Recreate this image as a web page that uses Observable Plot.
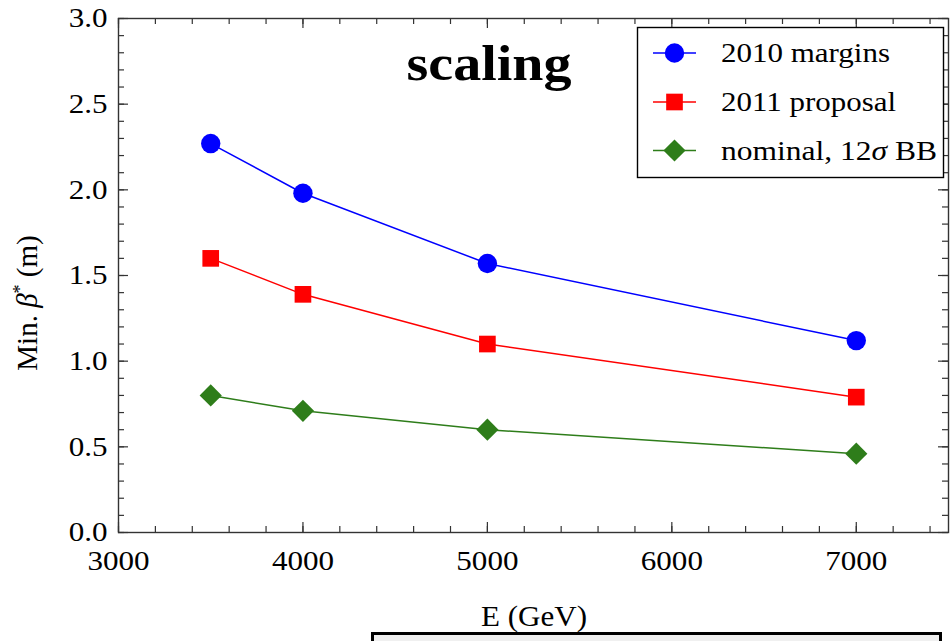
<!DOCTYPE html>
<html><head><meta charset="utf-8">
<script src="https://cdn.jsdelivr.net/npm/d3@7"></script>
<script src="https://cdn.jsdelivr.net/npm/@observablehq/plot@0.6"></script>
<style>
body{margin:0;background:#fff}
#wrap{position:relative;width:952px;height:641px;overflow:hidden;background:#fff}
#overlay{position:absolute;left:0;top:0;pointer-events:none}
#wrap svg text{font-family:'Liberation Serif','Times New Roman',serif}
</style>
</head><body><div id="wrap"></div>
<script>
// ---- data ----
const energies = [3500, 4000, 5000, 7000];
const margins2010 = [2.27, 1.98, 1.57, 1.12];
const proposal2011 = [1.60, 1.39, 1.10, 0.79];
const nominal12 = [0.80, 0.71, 0.60, 0.46];
const seriesNames = ["2010 margins", "2011 proposal", "nominal, 12σ BB"];
const seriesValues = [margins2010, proposal2011, nominal12];
const seriesColors = ["#0000ff", "#ff0000", "#2e7d1a"];
const seriesSymbols = ["circle", "square", "diamond2"];
const xTicks = [3000, 4000, 5000, 6000, 7000];
const yTicks = [0.0, 0.5, 1.0, 1.5, 2.0, 2.5, 3.0];
const titleText = "scaling";
const xLabel = "E (GeV)";

// ---- layout ----
const W = 952, H = 641;
const mL = 118, mR = 4, mT = 18, mB = 109;
const pW = W - mL - mR, pH = H - mT - mB;
const serif = "'Liberation Serif', 'Times New Roman', serif";
const axisColor = "#333";
const markerR = [9.7, 9.4, 10];
const stretch = 1.13; // reference text is slightly wider than it is tall

const rows = [];
seriesNames.forEach((s, i) => energies.forEach((e, j) => rows.push({series: s, E: e, beta: seriesValues[i][j]})));

const xMinor = d3.range(3000, 7500.1, 200);
const yMinor = d3.range(0, 30.1, 1).map(d => d / 10);

const marks = [
  // ticks pointing inward on all four sides
  Plot.tickX(xMinor, {x: d => d, insetTop: pH - 6, stroke: axisColor, strokeWidth: 1.2}),
  Plot.tickX(xTicks, {x: d => d, insetTop: pH - 10, stroke: axisColor, strokeWidth: 1.2}),
  Plot.tickX(xMinor, {x: d => d, insetBottom: pH - 6, stroke: axisColor, strokeWidth: 1.2}),
  Plot.tickX(xTicks, {x: d => d, insetBottom: pH - 10, stroke: axisColor, strokeWidth: 1.2}),
  Plot.tickY(yMinor, {y: d => d, insetRight: pW - 6, stroke: axisColor, strokeWidth: 1.2}),
  Plot.tickY(yTicks, {y: d => d, insetRight: pW - 10, stroke: axisColor, strokeWidth: 1.2}),
  Plot.tickY(yMinor, {y: d => d, insetLeft: pW - 6, stroke: axisColor, strokeWidth: 1.2}),
  Plot.tickY(yTicks, {y: d => d, insetLeft: pW - 10, stroke: axisColor, strokeWidth: 1.2}),
  Plot.axisX(xTicks, {anchor: "bottom", tickSize: 0, tickPadding: 18, label: null, fontSize: 27.5, fontFamily: serif, fill: "black", tickFormat: d => String(d)}),
  Plot.axisY(yTicks, {anchor: "left", tickSize: 0, tickPadding: 11, label: null, fontSize: 27.5, fontFamily: serif, fill: "black", tickFormat: d3.format(".1f")}),
  Plot.frame({stroke: axisColor, strokeWidth: 1.4})
];
seriesNames.forEach((s, i) => {
  const sub = rows.filter(r => r.series === s);
  marks.push(Plot.line(sub, {x: "E", y: "beta", stroke: seriesColors[i], strokeWidth: 1.5}));
  marks.push(Plot.dot(sub, {x: "E", y: "beta", fill: seriesColors[i], symbol: seriesSymbols[i], r: markerR[i], stroke: "none"}));
});

const chart = Plot.plot({
  width: W, height: H,
  marginLeft: mL, marginRight: mR, marginTop: mT, marginBottom: mB,
  x: {domain: [3000, 7500], axis: null},
  y: {domain: [0, 3], axis: null},
  style: {fontFamily: serif, fontSize: "27px", background: "white", color: "black", overflow: "visible"},
  marks
});
const wrap = document.getElementById("wrap");
wrap.appendChild(chart);

// serif, slightly widened tick labels like the reference
chart.querySelectorAll('g[aria-label="x-axis tick label"] text, g[aria-label="y-axis tick label"] text').forEach(t => {
  t.style.fontFamily = "'Liberation Serif', serif";
  t.style.fontVariantNumeric = "normal";
  const len = t.getComputedTextLength();
  if (len > 0) { t.setAttribute("textLength", len * stretch); t.setAttribute("lengthAdjust", "spacingAndGlyphs"); }
});

// ---- overlay: title, labels, legend ----
const ov = d3.select(wrap).append("svg").attr("id", "overlay")
  .attr("width", W).attr("height", H).attr("font-family", serif);

ov.append("text").attr("x", 489).attr("y", 80).attr("text-anchor", "middle")
  .attr("font-size", 51).attr("font-weight", "bold")
  .attr("textLength", 165).attr("lengthAdjust", "spacingAndGlyphs").text(titleText);

ov.append("text").attr("x", 534).attr("y", 626).attr("text-anchor", "middle")
  .attr("font-size", 29).attr("textLength", 106).attr("lengthAdjust", "spacingAndGlyphs").text(xLabel);

const yl = ov.append("text").attr("transform", "translate(37,303) rotate(-90)")
  .attr("text-anchor", "middle").attr("font-size", 29);
yl.append("tspan").text("Min. ");
yl.append("tspan").attr("font-style", "italic").text("β");
yl.append("tspan").attr("font-size", 18).attr("dy", -11).text("*");
yl.append("tspan").attr("dy", 11).text(" (m)");

// bottom partial box
ov.append("rect").attr("x", 372.5).attr("y", 633.5).attr("width", 568).attr("height", 30)
  .attr("fill", "#f0f0f0").attr("stroke", "black").attr("stroke-width", 3);

// legend
ov.append("rect").attr("x", 637.5).attr("y", 27.5).attr("width", 306).attr("height", 150)
  .attr("fill", "white").attr("stroke", "black").attr("stroke-width", 1.4);
const symMap = {circle: d3.symbolCircle, square: d3.symbolSquare, diamond2: d3.symbolDiamond2 || d3.symbolDiamond};
const rowY = [53, 102, 150.5];
const textW = [169, 175, 216];
seriesNames.forEach((s, i) => {
  const g = ov.append("g").attr("transform", `translate(0,${rowY[i]})`);
  g.append("line").attr("x1", 653).attr("x2", 696).attr("stroke", seriesColors[i]).attr("stroke-width", 1.5);
  g.append("path").attr("transform", "translate(674.5,0)")
    .attr("d", d3.symbol(symMap[seriesSymbols[i]], Math.PI * markerR[i] * markerR[i])())
    .attr("fill", seriesColors[i]);
  const t = g.append("text").attr("x", 721).attr("y", 9).attr("font-size", 28)
    .attr("textLength", textW[i]).attr("lengthAdjust", "spacingAndGlyphs");
  if (i === 2) {
    t.append("tspan").text("nominal, 12");
    t.append("tspan").attr("font-style", "italic").text("σ");
    t.append("tspan").text(" BB");
  } else t.text(s);
});
</script>
</body></html>
